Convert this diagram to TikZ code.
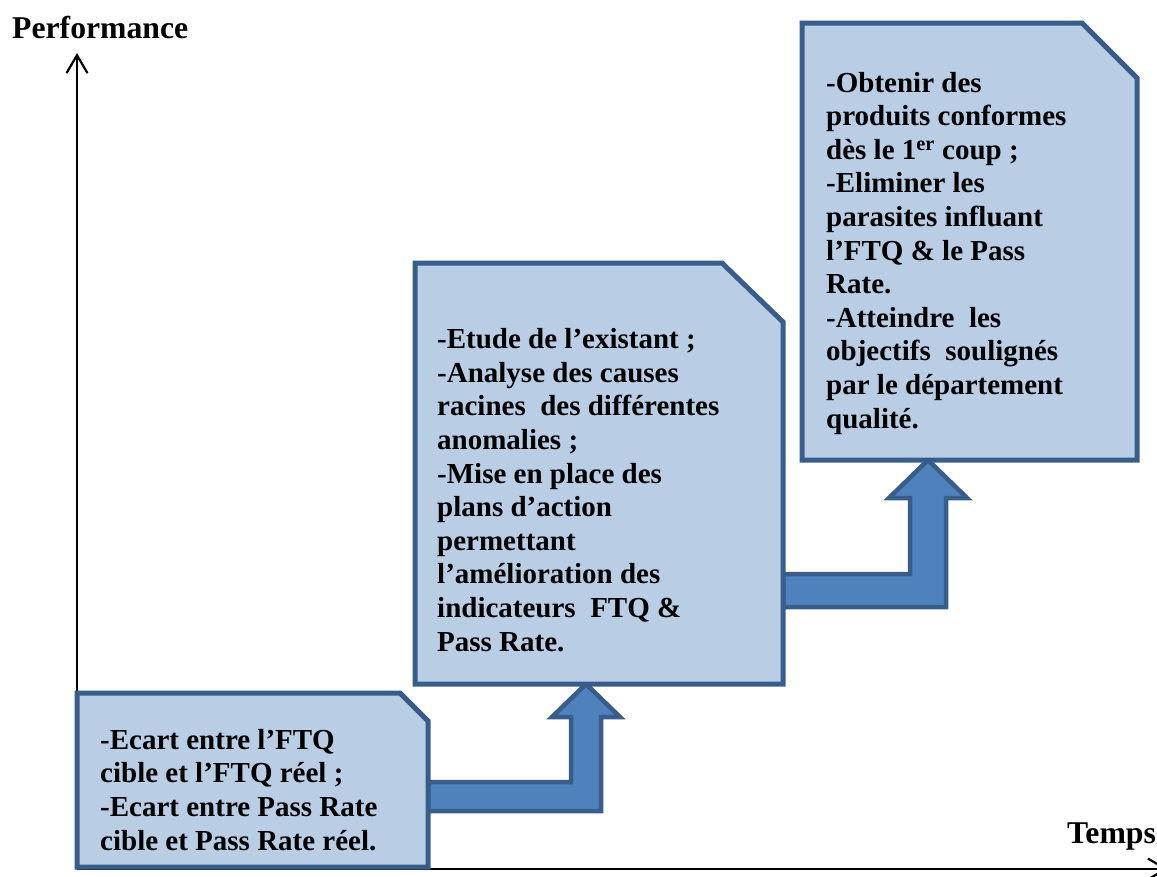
\documentclass[tikz,border=0pt]{standalone}
\usepackage{fontspec}
\setmainfont{Liberation Serif}
\usetikzlibrary{arrows.meta}
\definecolor{boxfill}{HTML}{B9CDE5}
\definecolor{boxline}{HTML}{385D8A}
\definecolor{arrowfill}{HTML}{4F81BD}
\begin{document}
\begin{tikzpicture}[x=1pt,y=-1pt,
  boxgeom/.style={draw=none,fill=none,inner sep=0pt,outer sep=0pt,anchor=north west},
  boxshape/.style={draw=boxline,fill=boxfill,line width=5pt,line join=miter},
  bentarrow/.style={draw=boxline,fill=arrowfill,line width=4.5pt,line join=miter},
  axisline/.style={line width=2.2pt,-{Straight Barb[length=18pt,width=21pt,line width=2.2pt]}},
  boxtext/.style={anchor=base west,align=left,inner sep=0pt,font=\fontsize{29}{33.6}\selectfont\bfseries},
  axislabel/.style={anchor=base west,inner sep=0pt,font=\fontsize{31.7}{36}\selectfont\bfseries}]
\useasboundingbox (0,0) rectangle (1157,876);
\clip (0,0) rectangle (1157,876);

% geometry nodes of the three boxes
\node[boxgeom,minimum width=351pt,minimum height=174pt] (b1) at (77,693) {};
\node[boxgeom,minimum width=368pt,minimum height=421pt] (b2) at (415,263) {};
\node[boxgeom,minimum width=335pt,minimum height=437pt] (b3) at (802,23) {};

% axes
\coordinate (O) at (77,869);
\coordinate (ytip) at (77,53);
\coordinate (xtip) at (1168,869);
\draw[axisline] (O) -- (ytip);
\draw[axisline] (O) -- (xtip);
\node[axislabel] (perf) at (12,38) {Performance};
\node[axislabel] (temps) at (1067,843) {Temps};

% bent arrows
\draw[bentarrow] (b1.east |- 0,782) -- (571,782) -- (571,717) -- (552,717)
  -- (586,0 |- b2.south) -- (620,717) -- (601,717) -- (601,811)
  -- (b1.east |- 0,811) -- cycle;
\draw[bentarrow] (b2.east |- 0,574) -- (910,574) -- (910,498) -- (889,498)
  -- (928,0 |- b3.south) -- (967,498) -- (946,498) -- (946,607)
  -- (b2.east |- 0,607) -- cycle;

% boxes with snipped corner
\draw[boxshape] (b1.north west) -- ([xshift=-28pt]b1.north east) -- ([yshift=-28pt]b1.north east)
  -- (b1.south east) -- (b1.south west) -- cycle;
\draw[boxshape] (b2.north west) -- ([xshift=-61pt]b2.north east) -- ([yshift=-59pt]b2.north east)
  -- (b2.south east) -- (b2.south west) -- cycle;
\draw[boxshape] (b3.north west) -- ([xshift=-55pt]b3.north east) -- ([yshift=-55pt]b3.north east)
  -- (b3.south east) -- (b3.south west) -- cycle;

% texts (anchor = baseline of the last line)
\node[boxtext] (t1) at (100,850) {-Ecart entre l’FTQ\\cible et l’FTQ réel ;\\-Ecart entre Pass Rate\\cible et Pass Rate réel.};
\node[boxtext] (t2) at (437,651) {-Etude de l’existant ;\\-Analyse des causes\\racines\ \ des différentes\\anomalies ;\\-Mise en place des\\plans d’action\\permettant\\l’amélioration des\\indicateurs\ \ FTQ \&\\Pass Rate.};
\node[boxtext] (t3) at (826,428) {-Obtenir des\\produits conformes\\dès le 1\textsuperscript{er} coup ;\\-Eliminer les\\parasites influant\\l’FTQ \& le Pass\\Rate.\\-Atteindre\ \ les\\objectifs\ \ soulignés\\par le département\\qualité.};
\end{tikzpicture}
\end{document}
